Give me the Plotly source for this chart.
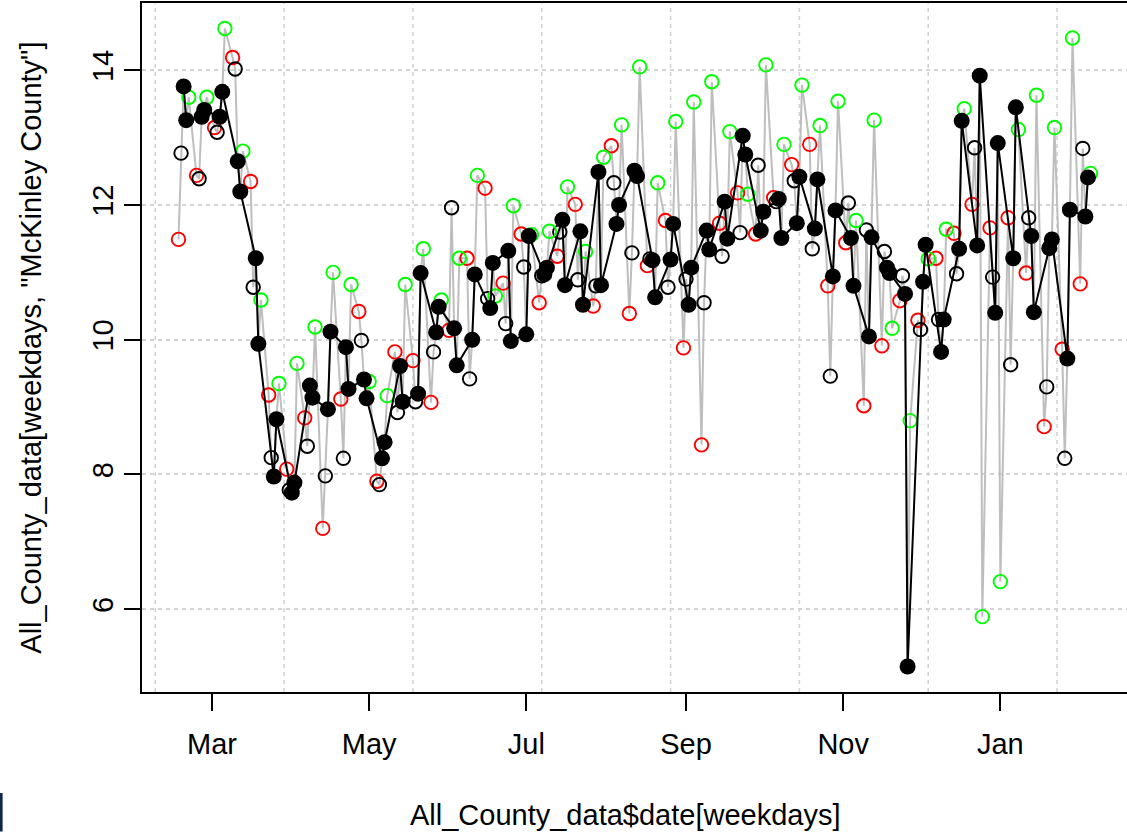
import pandas as pd
import plotly.graph_objects as go

# Weekday series for McKinley County, one value per weekday of each week
# (weeks starting Monday 2020-02-17 through Monday 2021-02-01)
mon_vals = [11.49, 12.44, 13.15, 14.19, 12.35, 9.18, 8.08, 8.84, 7.2, 9.12, 10.42, 7.9, 9.82,
            9.69, 9.07, 10.14, 11.21, 12.25, 10.84, 11.57, 10.55, 11.24, 12.01, 10.5, 12.88,
            10.39, 11.1, 11.77, 9.88, 8.44, 11.73, 12.18, 11.57, 12.11, 12.6, 12.9, 10.8,
            11.44, 9.02, 9.91, 10.58, 10.29, 11.21, 11.58, 12.01, 11.66, 11.81, 10.99, 8.71,
            9.86, 10.83]
tue_vals = [12.77, 12.39, 13.08, 14.02, 10.78, 8.25, 7.77, 8.42, 7.98, 8.24, 9.99, 7.85, 8.92,
            9.08, 9.82, 11.96, 9.42, 10.61, 10.24, 11.08, 10.95, 11.6, 10.89, 10.8, 12.33,
            11.29, 11.2, 10.78, 10.9, 10.55, 11.24, 11.59, 12.59, 12.05, 12.36, 11.35, 9.46,
            12.03, 11.63, 11.31, 10.95, 10.15, 10.3, 10.98, 12.85, 10.93, 9.63, 11.81, 9.3,
            8.24, 12.84]
wed_vals = [13.76, 13.31, 13.31, 12.65, 11.21, 7.97, 7.73, 9.32, 8.97, 9.89, 9.41, 8.24, 9.61,
            9.2, 10.11, 10.17, 10.0, 10.47, 11.32, 10.08, 10.97, 11.78, 11.61, 12.49, 11.72,
            12.51, 11.18, 11.19, 10.52, 11.62, 12.05, 13.03, 11.62, 12.09, 11.73, 11.65, 10.94,
            11.51, 10.05, 11.07, 10.68, 10.86, 9.82, 11.35, 11.4, 10.4, 11.21, 11.54, 11.36,
            9.72, 11.83]
thu_vals = [13.26, 13.41, 13.68, 12.2, 9.94, 8.82, 7.88, 9.14, 10.12, 9.27, 9.13, 8.48, 9.08,
            10.99, 10.49, 9.62, 10.97, 11.14, 9.98, 11.54, 11.07, 10.81, 10.52, 10.81, 12.0,
            12.43, 10.63, 11.72, 11.07, 11.34, 11.5, 12.75, 11.9, 11.51, 12.42, 12.38, 11.92,
            10.8, 11.52, 10.99, 5.15, 11.41, 10.3, 13.25, 13.92, 12.92, 13.45, 10.41, 11.49,
            11.93, 12.41]
fri_vals = [13.6, 13.6, 14.62, 12.8, 10.59, 9.35, 9.65, 10.19, 11.0, 10.82, 9.38, 9.17, 10.82,
            11.35, 10.59, 11.21, 12.44, 10.65, 11.99, 11.56, 11.61, 12.27, 11.31, 12.71, 13.19,
            14.05, 12.33, 13.24, 13.53, 13.83, 13.09, 12.16, 14.08, 12.9, 13.78, 13.18, 13.54,
            11.77, 13.26, 10.17, 8.8, 11.2, 11.64, 13.43, 5.89, 6.41, 13.12, 13.63, 13.15,
            14.48, 12.47]

first_day = "2020-02-17"
last_day = "2021-02-05"

month_ticks = ["2020-03-01", "2020-05-01", "2020-07-01", "2020-09-01", "2020-11-01", "2021-01-01"]
month_labels = ["Mar", "May", "Jul", "Sep", "Nov", "Jan"]
y_ticks = [6, 8, 10, 12, 14]
grid_day_numbers = [18300, 18350, 18400, 18450, 18500, 18550, 18600, 18650]

# ---- assemble the weekday series in date order ----
dates = pd.bdate_range(first_day, last_day)
by_day = [mon_vals, tue_vals, wed_vals, thu_vals, fri_vals]
values = []
for wk in range(len(mon_vals)):
    for d in range(5):
        values.append(by_day[d][wk])
df = pd.DataFrame({"date": dates, "val": values})
df["wd"] = df["date"].dt.weekday

mid = df[df["wd"].isin([2, 3])]

FONT = "Liberation Sans, Arial, sans-serif"
FS = 29
fig = go.Figure()

# grey line through every weekday
fig.add_trace(go.Scatter(x=df["date"], y=df["val"], mode="lines",
                         line=dict(color="#BEBEBE", width=2), hoverinfo="skip"))

# open circles: Monday red, Tuesday black, Friday green
open_styles = [(0, "#FF0000"), (1, "#000000"), (4, "#00FF00")]
for wd, col in open_styles:
    sub = df[df["wd"] == wd]
    fig.add_trace(go.Scatter(x=sub["date"], y=sub["val"], mode="markers",
                             marker=dict(symbol="circle-open", size=13.5, color=col,
                                         line=dict(width=1.9, color=col))))

# midweek (Wed/Thu) filled points joined by a black line
fig.add_trace(go.Scatter(x=mid["date"], y=mid["val"], mode="lines+markers",
                         line=dict(color="black", width=2),
                         marker=dict(symbol="circle", size=16, color="black")))

# x range with 4% padding on each side of the data span
d0, d1 = pd.Timestamp(first_day), pd.Timestamp(last_day)
pad = (d1 - d0) * 0.04
x_range = [d0 - pad, d1 + pad]
y_min, y_max = df["val"].min(), df["val"].max()
y_pad = (y_max - y_min) * 0.04
y_range = [y_min - y_pad, y_max + y_pad]

# dotted vertical reference lines every 50 days
shapes = []
for n in grid_day_numbers:
    dt = pd.Timestamp("1970-01-01") + pd.Timedelta(days=n)
    shapes.append(dict(type="line", xref="x", yref="paper", x0=dt, x1=dt, y0=0, y1=1,
                       layer="below", line=dict(color="#D3D3D3", width=1.6, dash="4px,4px")))
# small dark mark at the lower-left edge of the canvas
shapes.append(dict(type="rect", xref="paper", yref="paper",
                   x0=-0.1445, x1=-0.1415, y0=-0.1466, y1=-0.2025,
                   fillcolor="#0d2847", line=dict(width=0)))

fig.update_layout(
    width=1127, height=836,
    margin=dict(l=142, r=0, t=3, b=144),
    paper_bgcolor="white", plot_bgcolor="white",
    showlegend=False,
    font=dict(family=FONT, size=FS, color="black"),
    shapes=shapes,
    xaxis=dict(type="date", range=x_range, tickvals=month_ticks, ticktext=month_labels,
               ticks="outside", ticklen=17, tickwidth=1.5, tickcolor="black",
               ticklabelstandoff=8,
               showgrid=False, zeroline=False, showline=True, mirror=True,
               linecolor="black", linewidth=1.5),
    yaxis=dict(range=y_range, tickvals=y_ticks, ticktext=[str(v) for v in y_ticks],
               ticks="outside", ticklen=16, tickwidth=1.5, tickcolor="black", tickangle=-90,
               showgrid=True, gridcolor="#D3D3D3", gridwidth=1.6, griddash="4px,4px",
               zeroline=False, showline=True, mirror=False,
               linecolor="black", linewidth=1.5),
    annotations=[
        dict(text="All_County_data$date[weekdays]", xref="paper", yref="paper",
             x=0.49, y=-0.1785, xanchor="center", yanchor="middle", showarrow=False,
             font=dict(family=FONT, size=FS)),
        dict(text='All_County_data[weekdays, "McKinley County"]', xref="paper", yref="paper",
             x=-0.1135, y=0.5, xanchor="center", yanchor="middle", textangle=-90,
             showarrow=False, font=dict(family=FONT, size=FS)),
    ],
)

fig.write_html("out.html")
